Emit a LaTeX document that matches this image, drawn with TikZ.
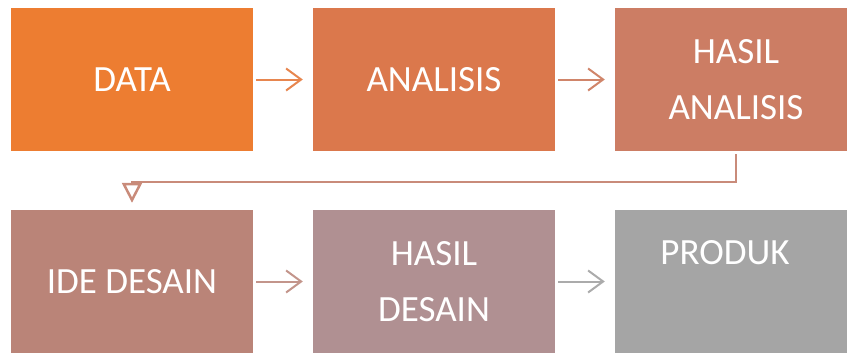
\documentclass[tikz,border=0pt]{standalone}
\usepackage{fontspec}
\setmainfont{Carlito}
\usetikzlibrary{arrows.meta}

\definecolor{stepA}{HTML}{ED7D31}
\definecolor{stepB}{HTML}{DB784C}
\definecolor{stepC}{HTML}{CC7D64}
\definecolor{stepD}{HTML}{BA8478}
\definecolor{stepE}{HTML}{B09092}
\definecolor{stepF}{HTML}{A5A5A5}
\definecolor{arrowA}{HTML}{E7864F}
\definecolor{arrowB}{HTML}{D0856A}
\definecolor{arrowC}{HTML}{C98B7A}
\definecolor{arrowD}{HTML}{C3958B}
\definecolor{arrowE}{HTML}{ABABAB}

\begin{document}
\begin{tikzpicture} [x = 1pt, y = -1pt,
					box/.style = {fill = #1,
					    minimum width = 242pt,
					    minimum height = 143pt,
					    inner sep = 0pt,
					    text = white,
					    align = center,
					    font = \fontsize{37}{56}\selectfont},
					flow/.style = {draw = #1,
					    line width = 2pt,
					    shorten < = 3pt,
					    shorten > = 10pt,
					    -{Straight Barb[length = 15pt, width = 22pt]}}]

					\useasboundingbox (0,0) rectangle (847,356);
					\clip (0,0) rectangle (847,356);

					\node (data) at (132,79.5) [box = stepA] {DATA};
					\node (analisis) at (434,79.5) [box = stepB] {ANALISIS};
					\node (hasilanalisis) at (736,79.5) [box = stepC] {HASIL\\ANALISIS};

					\node (ide) at (132,281.5) [box = stepD] {IDE DESAIN};
					\node (hasildesain) at (434,281.5) [box = stepE] {HASIL\\DESAIN};
					\node (produk) at (736,281.5) [box = stepF,
					    label = {[text = white, font = \fontsize{37}{56}\selectfont,
					    xshift = -11pt, yshift = 29pt]center:PRODUK}] {};

					\draw [flow = arrowA] (data) -- (analisis);
					\draw [flow = arrowB] (analisis) -- (hasilanalisis);
					\draw [flow = arrowC, line width = 2.5pt, shorten > = 7pt,
					    -{Triangle[open, length = 20pt, width = 20pt]}]
					    (hasilanalisis.south) -- ++(0,31) -| (ide.north);
					\draw [flow = arrowD] (ide) -- (hasildesain);
					\draw [flow = arrowE] (hasildesain) -- (produk);

				\end{tikzpicture}
\end{document}
